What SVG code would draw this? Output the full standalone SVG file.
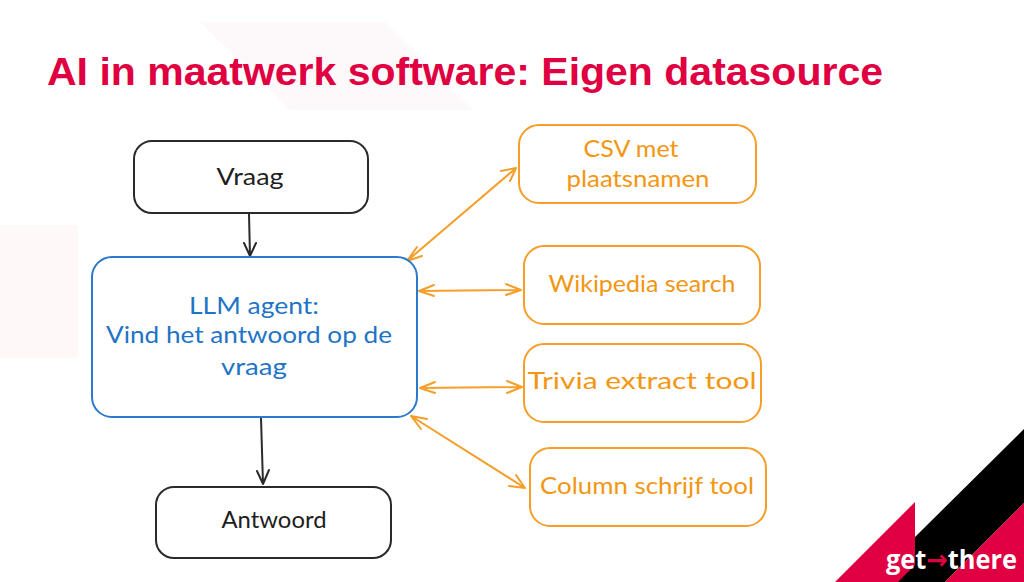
<svg xmlns="http://www.w3.org/2000/svg" width="1024" height="582" viewBox="0 0 1024 582">
<style>
.box{fill:#fff;stroke-width:2}
.k{stroke:#2a2a2a}.b{stroke:#2b7acb}.o{stroke:#f59f2a}
.ln{fill:none;stroke-width:2;stroke-linecap:round;stroke-linejoin:round}
.t{font-family:"Lato","Open Sans","Noto Sans",sans-serif;font-size:23px;text-anchor:middle}
.tk{fill:#1e1e1e}.tb{fill:#1f74c6}.to{fill:#f39612}
</style>
<defs></defs>
<rect width="1024" height="582" fill="#fff"/>
<polygon points="200,22 385,22 473,110 290,110" fill="#fdf9fa"/>
<rect x="0" y="225" width="78" height="133" fill="#fef8f8"/>
<text id="title" x="47" y="84.5" font-family="'Liberation Sans',Arial,sans-serif" font-weight="700" font-size="39.5px" fill="#e00041" textLength="836" lengthAdjust="spacingAndGlyphs">AI in maatwerk software: Eigen datasource</text>
<g id="logo">
<polygon points="915,502 915,582 835,582" fill="#e00041"/>
<polygon points="1024,429 1024,503 945,582 898,582 915,565 915,537" fill="#000"/>
<polygon points="1024,503 1024,582 945,582" fill="#e00041"/>
<text x="886" y="569" font-family="'Open Sans','Noto Sans',sans-serif" font-weight="700" font-size="27px" fill="#fff" textLength="131" lengthAdjust="spacingAndGlyphs">get<tspan fill="#e00041" font-family="'DejaVu Sans',sans-serif">→</tspan>there</text>
</g>
<g id="connectors">
<path class="k ln" d="M249 214 L250 256 M244 243 L250 256 L256 243"/>
<path class="k ln" d="M261 418 L263 484 M257 471 L263 484 L269 470"/>
<path class="o ln" d="M407 261 L516 168 M417 247 L407 261 L422 256 M501 171 L516 168 L510 181"/>
<path class="o ln" d="M419 291 L521 290 M434 285 L419 291 L434 296 M506 284 L521 290 L506 295"/>
<path class="o ln" d="M420 388 L522 387 M435 382 L420 388 L435 393 M507 381 L522 387 L507 393"/>
<path class="o ln" d="M411 416 L525 488 M421 429 L411 416 L427 419 M509 486 L525 488 L516 475"/>
</g>
<g id="vraag">
<rect class="box k" x="134" y="141" width="234" height="72" rx="18"/>
<text class="t tk" x="250" y="185" textLength="67" lengthAdjust="spacingAndGlyphs">Vraag</text>
</g>
<g id="llm">
<rect class="box b" x="92" y="257" width="325" height="160" rx="20"/>
<text class="t tb" x="254" y="314" textLength="130" lengthAdjust="spacingAndGlyphs">LLM agent:</text>
<text class="t tb" x="249" y="343" textLength="286" lengthAdjust="spacingAndGlyphs">Vind het antwoord op de</text>
<text class="t tb" x="254" y="375" textLength="66" lengthAdjust="spacingAndGlyphs">vraag</text>
</g>
<g id="antwoord">
<rect class="box k" x="156" y="487" width="235" height="71" rx="18"/>
<text class="t tk" x="274" y="528" textLength="105" lengthAdjust="spacingAndGlyphs">Antwoord</text>
</g>
<g id="csv">
<rect class="box o" x="519" y="125" width="237" height="78" rx="20"/>
<text class="t to" x="631" y="157" textLength="95" lengthAdjust="spacingAndGlyphs">CSV met</text>
<text class="t to" x="638" y="187" textLength="143" lengthAdjust="spacingAndGlyphs">plaatsnamen</text>
</g>
<g id="wikipedia">
<rect class="box o" x="524" y="246" width="236" height="78" rx="20"/>
<text class="t to" x="642" y="292" textLength="187" lengthAdjust="spacingAndGlyphs">Wikipedia search</text>
</g>
<g id="trivia">
<rect class="box o" x="524" y="344" width="237" height="78" rx="20"/>
<text class="t to" x="642" y="389" textLength="229" lengthAdjust="spacingAndGlyphs">Trivia extract tool</text>
</g>
<g id="column">
<rect class="box o" x="530" y="448" width="236" height="78" rx="20"/>
<text class="t to" x="647" y="494" textLength="214" lengthAdjust="spacingAndGlyphs">Column schrijf tool</text>
</g>
</svg>
